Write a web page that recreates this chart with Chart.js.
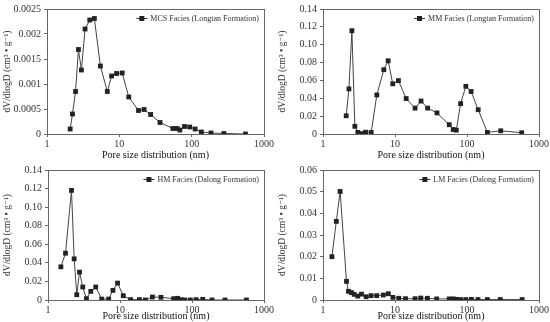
<!DOCTYPE html>
<html>
<head>
<meta charset="utf-8">
<script src="https://cdn.jsdelivr.net/npm/chart.js@4.4.1/dist/chart.umd.min.js"></script>
<style>
  html, body { margin: 0; padding: 0; background: #fff; overflow: hidden; }
  body { width: 550px; height: 322px; position: relative; }
  canvas { position: absolute; }
</style>
</head>
<body>
<canvas id="c1" width="275" height="161" style="left:0;top:0"></canvas>
<canvas id="c2" width="275" height="161" style="left:275px;top:0"></canvas>
<canvas id="c3" width="275" height="161" style="left:0;top:161px"></canvas>
<canvas id="c4" width="275" height="161" style="left:275px;top:161px"></canvas>
<script>
// pore size (nm) and dV/dlogD for each facies
var mcsSize = [2.09, 2.25, 2.48, 2.72, 2.99, 3.36, 3.90, 4.52, 5.47, 6.82, 7.82, 9.16, 10.96, 13.5, 18.4, 22.0, 27.1, 36.5, 55, 63, 68.7, 79.6, 94, 111.6, 136, 185, 279, 555]
var mcsDv = [0.0001, 0.0004, 0.00085, 0.00169, 0.00128, 0.0021, 0.00228, 0.00231, 0.00136, 0.00085, 0.00116, 0.00121, 0.00122, 0.00074, 0.00047, 0.00049, 0.00039, 0.00023, 0.00011, 0.00011, 0.00008, 0.00015, 0.00014, 0.0001, 0.00004, 0.00002, 0.00001, 0]

var mmSize = [2.10, 2.29, 2.52, 2.77, 3.05, 3.47, 3.90, 4.67, 5.59, 6.99, 8.03, 9.31, 11.16, 14.3, 19.0, 23.0, 28.4, 38.3, 56.7, 64.4, 71, 81.5, 96.4, 114, 143, 192, 294, 575]
var mmDv = [0.0204, 0.0505, 0.1157, 0.0086, 0.0018, 0.0004, 0.002, 0.0018, 0.0437, 0.072, 0.082, 0.0562, 0.0598, 0.0397, 0.029, 0.0369, 0.029, 0.0236, 0.0104, 0.005, 0.0043, 0.034, 0.0534, 0.0476, 0.0272, 0.0018, 0.0036, 0.0014]

var hmSize = [1.51, 1.75, 2.12, 2.31, 2.51, 2.74, 3.04, 3.42, 3.93, 4.60, 5.57, 6.96, 7.98, 9.25, 11.1, 14.0, 18.6, 22.5, 28.2, 37.1, 55.5, 63, 70, 79.6, 95, 114, 141, 190, 287, 571]
var hmDv = [0.0357, 0.0504, 0.118, 0.0443, 0.0057, 0.030, 0.014, 0.0014, 0.0093, 0.014, 0.001, 0.001, 0.0104, 0.0182, 0.0046, 0.0004, 0.0004, 0, 0.0032, 0.0029, 0.0014, 0.0018, 0.0004, 0, 0, 0.0004, 0.0007, 0, 0, 0]

var lmSize = [1.33, 1.53, 1.73, 2.12, 2.26, 2.49, 2.71, 3.04, 3.42, 3.97, 4.65, 5.57, 6.88, 8.07, 9.35, 11.3, 14.0, 19.0, 22.8, 28.2, 37.9, 56.6, 64.4, 70.8, 81.3, 96.2, 115, 142, 192, 290, 583]
var lmDv = [0.02, 0.0363, 0.0501, 0.0086, 0.004, 0.0034, 0.0026, 0.0018, 0.0027, 0.0015, 0.002, 0.002, 0.0023, 0.0029, 0.0012, 0.0008, 0.0006, 0.0006, 0.0009, 0.0008, 0.0005, 0.0005, 0.0005, 0.0003, 0.0002, 0.0002, 0.0003, 0.0002, 0.0002, 0.0002, 0.0002]

var xTicks = [1, 10, 100, 1000]
var serif = "'Liberation Serif', 'DejaVu Serif', serif"

function toPoints(xs, ys) {
  return xs.map(function (x, i) { return {x: x, y: ys[i]} })
}

// box round the plot and the little legend in the top right corner
var boxLegend = {
  id: 'boxLegend',
  afterDraw: function (chart) {
    var ctx = chart.ctx
    var a = chart.chartArea
    ctx.save()
    ctx.strokeStyle = '#666'
    ctx.lineWidth = 1
    ctx.strokeRect(Math.round(a.left) + 0.5, Math.round(a.top) + 0.5, Math.round(a.right - a.left), Math.round(a.bottom - a.top))

    var label = chart.data.datasets[0].label
    ctx.font = '8px ' + serif
    ctx.fillStyle = '#333'
    ctx.textAlign = 'right'
    ctx.textBaseline = 'middle'
    var tx = a.right - 5
    var ty = a.top + 9.5
    ctx.fillText(label, tx, ty)
    var w = ctx.measureText(label).width
    var sx = tx - w - 12
    ctx.strokeStyle = '#333'
    ctx.beginPath()
    ctx.moveTo(sx - 2, ty)
    ctx.lineTo(sx + 9, ty)
    ctx.stroke()
    ctx.fillStyle = '#222'
    ctx.fillRect(sx + 1, ty - 2.5, 5, 5)
    ctx.restore()
  }
}

function makeChart(id, label, xs, ys, yMax, yStep, yFmt, pad) {
  new Chart(document.getElementById(id), {
    type: 'line',
    data: {
      datasets: [{
        label: label,
        data: toPoints(xs, ys),
        borderColor: '#444',
        borderWidth: 1,
        backgroundColor: '#222',
        pointStyle: 'rect',
        pointRadius: 3.4,
        pointBorderWidth: 0,
        tension: 0
      }]
    },
    options: {
      responsive: false,
      animation: false,
      layout: { padding: { top: pad.top, right: pad.right, left: 0, bottom: 0 } },
      plugins: { legend: { display: false }, tooltip: { enabled: false } },
      scales: {
        x: {
          type: 'logarithmic',
          min: 1,
          max: 1000,
          afterBuildTicks: function (s) { s.ticks = xTicks.map(function (v) { return {value: v} }) },
          afterFit: function (s) { s.height = pad.bottom },
          grid: { display: true, drawOnChartArea: false, tickLength: 3, color: '#666' },
          border: { color: '#666' },
          ticks: {
            padding: 1,
            maxRotation: 0,
            color: '#333',
            font: { family: serif, size: 10 },
            callback: function (v) { return String(v) }
          },
          title: {
            display: true,
            text: 'Pore size distribution (nm)',
            color: '#111',
            font: { family: serif, size: 10 },
            padding: 0
          }
        },
        y: {
          min: 0,
          max: yMax,
          afterFit: function (s) { s.width = pad.left },
          grid: { display: true, drawOnChartArea: false, tickLength: 3, color: '#666' },
          border: { color: '#666' },
          ticks: {
            stepSize: yStep,
            padding: 3,
            color: '#333',
            font: { family: serif, size: 10 },
            callback: yFmt
          },
          title: {
            display: true,
            text: 'dV/dlogD (cm³ • g⁻¹)',
            color: '#333',
            font: { family: serif, size: 9.5 },
            padding: { top: 2, bottom: 0 }
          }
        }
      }
    },
    plugins: [boxLegend]
  })
}

function fmtSmall(v) { return v === 0 ? '0' : String(Math.round(v * 10000) / 10000) }
function fmt2(v) { return v === 0 ? '0' : v.toFixed(2) }

makeChart('c1', 'MCS Facies (Longtan Formation)', mcsSize, mcsDv, 0.0025, 0.0005, fmtSmall, {top: 3, right: 9, left: 47, bottom: 27})
makeChart('c2', 'MM Facies (Longtan Formation)', mmSize, mmDv, 0.14, 0.02, fmt2, {top: 3, right: 10, left: 48, bottom: 27})
makeChart('c3', 'HM Facies (Dalong Formation)', hmSize, hmDv, 0.14, 0.02, fmt2, {top: 8, right: 10, left: 48, bottom: 22})
makeChart('c4', 'LM Facies (Dalong Formation)', lmSize, lmDv, 0.06, 0.01, fmt2, {top: 7, right: 10, left: 48, bottom: 22})
</script>
</body>
</html>
